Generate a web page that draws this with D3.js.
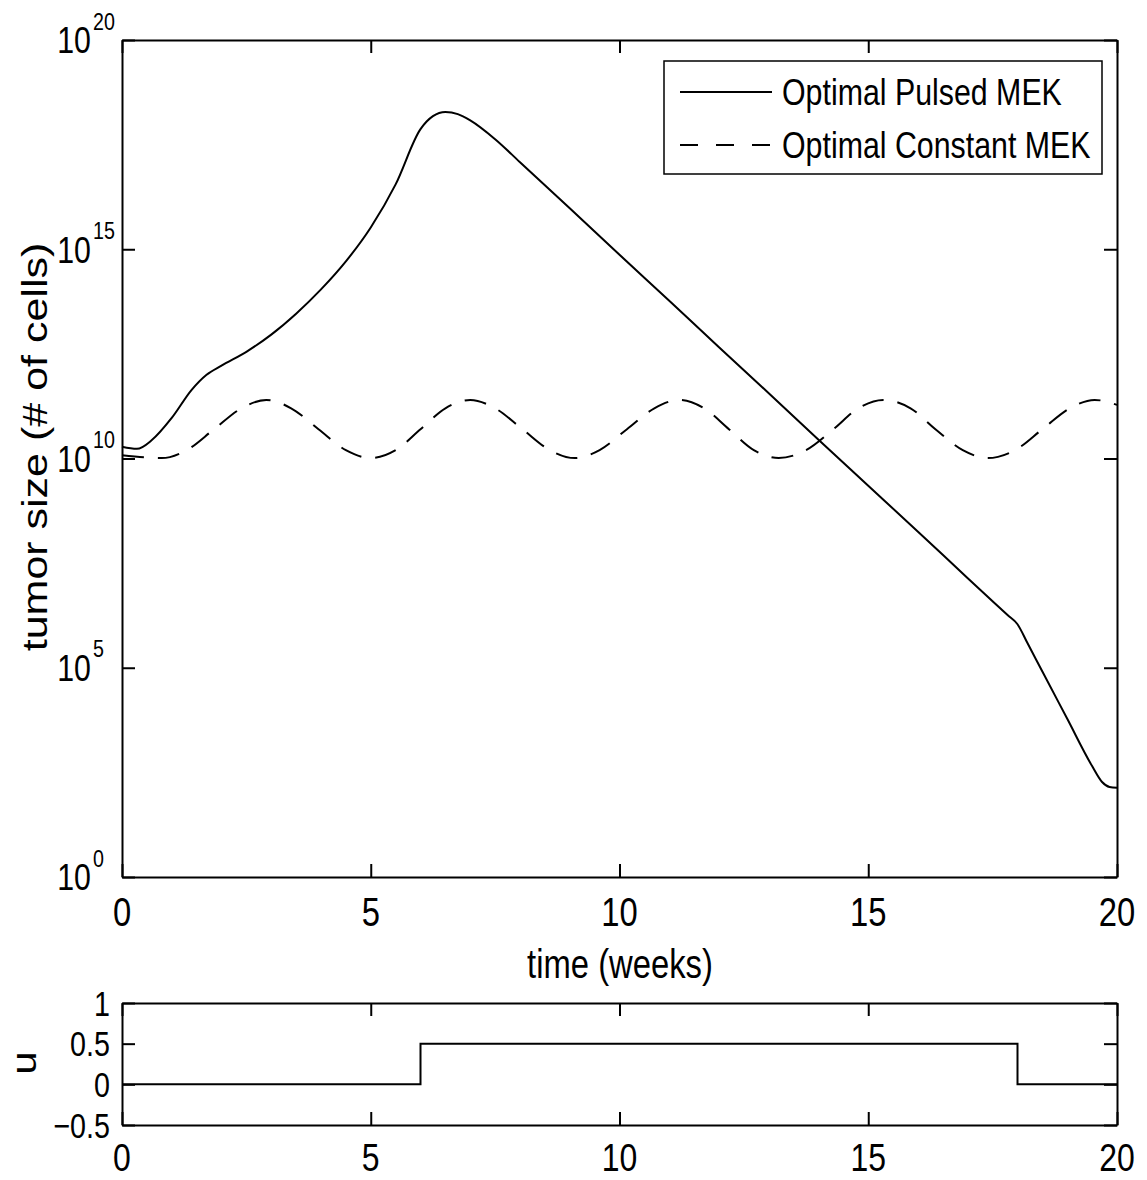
<!DOCTYPE html>
<html>
<head>
<meta charset="utf-8">
<script src="https://cdn.jsdelivr.net/npm/d3@7"></script>
<style>
  body { margin: 0; background: #fff; }
  svg { display: block; font-family: "Liberation Sans", Arial, sans-serif; }
</style>
</head>
<body>
<script>
var w = 1147;
var h = 1180;
var sx = 0.82; // the picture is squeezed sideways, so text is too

// pulsed MEK: time (weeks) and log10(tumor size)
var pulsedT   = [0, 0.3, 0.6, 1.0, 1.4, 1.7, 2.0, 2.5, 3.0, 3.5, 4.0, 4.5, 5.0, 5.5, 6.0, 6.25, 6.5, 6.75, 7.0, 7.5, 8.0, 9, 10, 11, 12, 13, 14, 15, 16, 17, 17.8, 18, 18.2, 18.5, 19, 19.5, 19.7, 19.85, 20];
var pulsedLog = [10.28, 10.23, 10.44, 10.97, 11.64, 12.0, 12.22, 12.55, 12.96, 13.46, 14.04, 14.71, 15.52, 16.55, 17.87, 18.18, 18.28, 18.23, 18.08, 17.63, 17.08, 15.98, 14.87, 13.77, 12.66, 11.56, 10.45, 9.35, 8.25, 7.14, 6.26, 6.04, 5.59, 4.91, 3.78, 2.65, 2.27, 2.15, 2.13];

// constant MEK
var constT   = [0, 0.8, 1.3, 1.85, 2.4, 2.9, 3.4, 3.95, 4.5, 5.0, 5.5, 6.0, 6.5, 7.0, 7.5, 8.05, 8.6, 9.1, 9.6, 10.15, 10.7, 11.2, 11.7, 12.2, 12.7, 13.2, 13.75, 14.3, 14.8, 15.3, 15.85, 16.35, 16.9, 17.4, 17.95, 18.5, 19.05, 19.55, 20];
var constLog = [10.08, 10.01, 10.2, 10.7, 11.2, 11.4, 11.2, 10.7, 10.2, 10.01, 10.2, 10.7, 11.2, 11.4, 11.2, 10.7, 10.2, 10.01, 10.2, 10.7, 11.2, 11.4, 11.2, 10.7, 10.2, 10.01, 10.2, 10.7, 11.2, 11.4, 11.2, 10.7, 10.2, 10.01, 10.2, 10.7, 11.2, 11.4, 11.28];

// control u(t)
var uT = [0, 6, 18, 20];
var uV = [0, 0.5, 0, 0];

var xTicks = [0, 5, 10, 15, 20];
var yExps = [0, 5, 10, 15, 20];
var uTicks = [-0.5, 0, 0.5, 1];
var seriesNames = ["Optimal Pulsed MEK", "Optimal Constant MEK"];

var svg = d3.select("body").append("svg")
            .attr("width", w)
            .attr("height", h);

var xScale = d3.scaleLinear().domain([0, 20]).range([122, 1117]);
var yScale = d3.scaleLinear().domain([0, 20]).range([877, 40]); // log10 units
var uScale = d3.scaleLinear().domain([-0.5, 1]).range([1125, 1003]);

// squeezed text helper
function label(x, y, txt, size, anchor, rot) {
    var g = svg.append("g")
               .attr("transform", "translate(" + x + "," + y + ") scale(" + sx + ",1)" + (rot ? " rotate(" + rot + ")" : ""));
    g.append("text")
     .attr("text-anchor", anchor || "middle")
     .attr("dy", "0.36em")
     .style("font-size", size + "px")
     .text(txt);
    return g;
}

function drawBox(yS, top, bottom, yVals) {
    var tick = 13;
    var axes = [
        [d3.axisBottom(xScale).tickValues(xTicks).tickSizeInner(-tick), "translate(0," + bottom + ")"],
        [d3.axisTop(xScale).tickValues(xTicks).tickSizeInner(-tick), "translate(0," + top + ")"],
        [d3.axisLeft(yS).tickValues(yVals).tickSizeInner(-tick), "translate(122,0)"],
        [d3.axisRight(yS).tickValues(yVals).tickSizeInner(-tick), "translate(1117,0)"]
    ];
    axes.forEach(function (a) {
        var g = svg.append("g")
                   .attr("transform", a[1])
                   .call(a[0].tickSizeOuter(0).tickFormat(""));
        g.selectAll("path, line").attr("stroke", "#000").attr("stroke-width", 2);
    });
}

// main plot
drawBox(yScale, 40, 877, yExps);

var line = d3.line()
             .x(function (d) { return xScale(d[0]); })
             .y(function (d) { return yScale(d[1]); })
             .curve(d3.curveMonotoneX);

svg.append("path")
   .datum(d3.zip(constT, constLog))
   .attr("d", line)
   .attr("fill", "none")
   .attr("stroke", "#000")
   .attr("stroke-width", 2)
   .attr("stroke-dasharray", "22,14");

svg.append("path")
   .datum(d3.zip(pulsedT, pulsedLog))
   .attr("d", line)
   .attr("fill", "none")
   .attr("stroke", "#000")
   .attr("stroke-width", 2);

// tick labels
xTicks.forEach(function (t) {
    label(xScale(t), 912, t, 40, "middle");
    label(xScale(t), 1157, t, 39, "middle");
});
yExps.forEach(function (e) {
    label(91, yScale(e), "10", 37, "end");
    label(93, yScale(e) - 19, e, 24, "start");
});
uTicks.forEach(function (u) {
    label(110, uScale(u), u < 0 ? "\u22120.5" : u, 35, "end");
});

label(620, 964, "time (weeks)", 40, "middle");
label(34, 447, "tumor size (# of cells)", 43, "middle", -90);

// legend
var lg = svg.append("g");
lg.append("rect")
  .attr("x", 664).attr("y", 61)
  .attr("width", 438).attr("height", 113)
  .attr("fill", "#fff")
  .attr("stroke", "#000")
  .attr("stroke-width", 1.5);
seriesNames.forEach(function (n, i) {
    var ly = 92 + i * 53;
    lg.append("line")
      .attr("x1", 680).attr("x2", 772)
      .attr("y1", ly).attr("y2", ly)
      .attr("stroke", "#000")
      .attr("stroke-width", 2)
      .attr("stroke-dasharray", i ? "18,18" : null);
    label(782, ly, n, 37, "start");
});

// control plot
drawBox(uScale, 1003, 1125, uTicks);

svg.append("path")
   .datum(d3.zip(uT, uV))
   .attr("d", d3.line()
                .x(function (d) { return xScale(d[0]); })
                .y(function (d) { return uScale(d[1]); })
                .curve(d3.curveStepAfter))
   .attr("fill", "none")
   .attr("stroke", "#000")
   .attr("stroke-width", 2);

label(24, 1063, "u", 42, "middle", -90);
</script>
</body>
</html>
